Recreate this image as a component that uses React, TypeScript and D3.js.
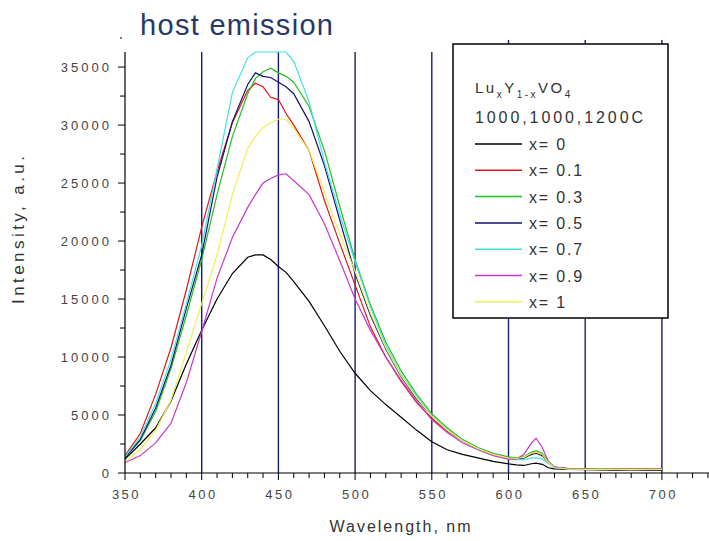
import React from "react";
import * as d3 from "d3";

const wavelengths = [350,360,370,380,390,400,410,420,430,435,440,445,450,455,460,470,480,490,500,510,520,530,540,550,560,570,580,590,600,605,610,615,618,622,626,630,640,650,660,670,680,690,700];

const x0 = [1200,2500,3900,6200,9400,12300,15000,17200,18600,18800,18800,18400,17800,17300,16500,14800,12700,10500,8600,7100,5900,4800,3700,2700,2000,1600,1300,1000,780,700,650,800,850,750,450,350,300,280,260,250,260,250,250];
const x01 = [1500,3400,6800,10800,15800,21200,26000,30200,33000,33600,33300,32400,32200,31000,30000,27800,23500,19800,16200,12600,10000,7900,6100,4700,3600,2800,2100,1600,1300,1200,1300,1700,1800,1600,900,500,350,330,320,320,330,350,350];
const x03 = [1300,2800,5300,9000,13600,18400,24000,29000,32700,34000,34600,34900,34500,34200,33700,31600,27800,23000,18400,14500,11300,8800,6800,5100,3900,2900,2200,1700,1400,1300,1400,1800,1900,1700,1000,500,380,350,340,330,340,350,350];
const x05 = [1300,2900,5600,9300,14200,18800,25500,30300,33500,34500,34200,34100,33700,33300,32700,30300,26500,21800,17200,13600,10700,8300,6400,4900,3700,2800,2100,1600,1300,1200,1300,1600,1700,1500,900,450,350,330,320,320,320,320,330];
const x07 = [1400,3100,6000,9800,14600,19600,26200,32800,35800,36300,36300,36300,36300,36300,35500,32000,26800,22300,18200,14300,11000,8500,6600,4900,3700,2800,2100,1600,1250,1150,1150,1300,1300,1200,800,450,350,320,310,310,310,320,320];
const x09 = [900,1500,2600,4300,7800,12200,16800,20300,22900,24000,25000,25400,25700,25800,25200,24000,21500,18300,15000,12300,10000,8000,6200,4600,3500,2600,2000,1500,1200,1200,1600,2600,3000,2200,1000,500,350,330,320,330,350,360,360];
const x1 = [1000,2000,3700,6300,10400,14600,18800,24000,28000,29000,29800,30200,30500,30500,29700,27800,24200,20600,17400,13800,10800,8400,6500,4900,3700,2800,2100,1600,1300,1250,1350,1700,1800,1600,900,450,330,320,310,310,310,320,320];

const seriesLabels = ["x= 0", "x= 0.1", "x= 0.3", "x= 0.5", "x= 0.7", "x= 0.9", "x= 1"];
const seriesValues = [x0, x01, x03, x05, x07, x09, x1];
const seriesColors = ["#000000", "#e01818", "#22c022", "#12126e", "#44e0e0", "#c838c8", "#eeee55"];

const xTicks = [350, 400, 450, 500, 550, 600, 650, 700];
const yTicks = [0, 5000, 10000, 15000, 20000, 25000, 30000, 35000];
const gridLines = [400, 450, 500, 550, 600, 650, 700];

const FONT = "'Liberation Sans', Arial, sans-serif";

export default function App() {
  const x = d3.scaleLinear().domain([350, 750]).range([125, 125 + 400 * 1.534]);
  const y = d3.scaleLinear().domain([0, 36300]).range([473, 52]);
  const line = d3
    .line<number>()
    .x((_, i) => x(wavelengths[i]))
    .y((d) => y(d));

  const minorX = d3.range(350, 751, 10);
  const minorY = d3.range(0, 36300, 2500);

  return (
    <div style={{ position: "absolute", left: 0, top: 0 }}>
      <svg width={709} height={541} style={{ display: "block", background: "#fff" }}>
        <defs>
          <clipPath id="plot">
            <rect x={125} y={51} width={600} height={422} />
          </clipPath>
        </defs>
        <rect width={709} height={541} fill="#fff" />
        <text x={140} y={35} fontFamily={FONT} fontSize={29} fill="#263866" textLength={193} lengthAdjust="spacing">
          host emission
        </text>
        <circle cx={121} cy={38} r={0.9} fill="#444" />

        {gridLines.map((g) => (
          <line key={g} x1={x(g)} x2={x(g)} y1={g >= 600 ? 40 : 52} y2={y(0)} stroke="#1a1a78" strokeWidth={1.4} />
        ))}

        <g clipPath="url(#plot)">
          {seriesValues.map((vals, i) => (
            <path key={i} d={line(vals) || ""} fill="none" stroke={seriesColors[i]} strokeWidth={1.2} />
          ))}
        </g>

        {/* y axis */}
        <line x1={125} x2={125} y1={52} y2={y(0)} stroke="#000" strokeWidth={1.2} />
        {minorY.map((t) => (
          <line key={t} x1={125} x2={t % 5000 === 0 ? 118 : 120} y1={y(t)} y2={y(t)} stroke="#000" strokeWidth={1} />
        ))}
        {yTicks.map((t) => (
          <text key={t} x={112} y={y(t) + 4.5} textAnchor="end" fontFamily={FONT} fontSize={13} fill="#444" letterSpacing={3}>
            {t}
          </text>
        ))}
        <text transform="translate(24,230) rotate(-90)" textAnchor="middle" fontFamily={FONT} fontSize={17} fill="#333" textLength={148} lengthAdjust="spacing">
          Intensity, a.u.
        </text>

        {/* x axis */}
        <line x1={125} x2={709} y1={y(0)} y2={y(0)} stroke="#000" strokeWidth={1.2} />
        {minorX.map((t) => (
          <line key={t} x1={x(t)} x2={x(t)} y1={y(0)} y2={y(0) + (t % 50 === 0 ? 7 : 5)} stroke="#000" strokeWidth={1} />
        ))}
        {xTicks.map((t) => (
          <text key={t} x={x(t) + 1.5} y={499} textAnchor="middle" fontFamily={FONT} fontSize={13} fill="#444" letterSpacing={2.5}>
            {t}
          </text>
        ))}
        <text x={401} y={532} textAnchor="middle" fontFamily={FONT} fontSize={16} fill="#333" letterSpacing={2}>
          Wavelength, nm
        </text>

        {/* legend */}
        <rect x={453} y={44} width={215} height={274} fill="#fff" stroke="#000" strokeWidth={1.5} />
        <text x={475} y={93} fontFamily={FONT} fontSize={15} fill="#333" letterSpacing={2.5}>
          <tspan>Lu</tspan>
          <tspan dy={5} fontSize={10}>x</tspan>
          <tspan dy={-5}>Y</tspan>
          <tspan dy={5} fontSize={10}>1-x</tspan>
          <tspan dy={-5}>VO</tspan>
          <tspan dy={5} fontSize={10}>4</tspan>
        </text>
        <text x={475} y={123} fontFamily={FONT} fontSize={16} fill="#333" textLength={168} lengthAdjust="spacing">
          1000,1000,1200C
        </text>
        {seriesLabels.map((lab, i) => {
          const ly = 144 + i * 26.3;
          return (
            <g key={lab}>
              <line x1={475} x2={522} y1={ly} y2={ly} stroke={seriesColors[i]} strokeWidth={1.5} />
              <text x={529} y={ly + 6} fontFamily={FONT} fontSize={16} fill="#333" letterSpacing={1.8}>
                {lab}
              </text>
            </g>
          );
        })}
      </svg>
    </div>
  );
}
